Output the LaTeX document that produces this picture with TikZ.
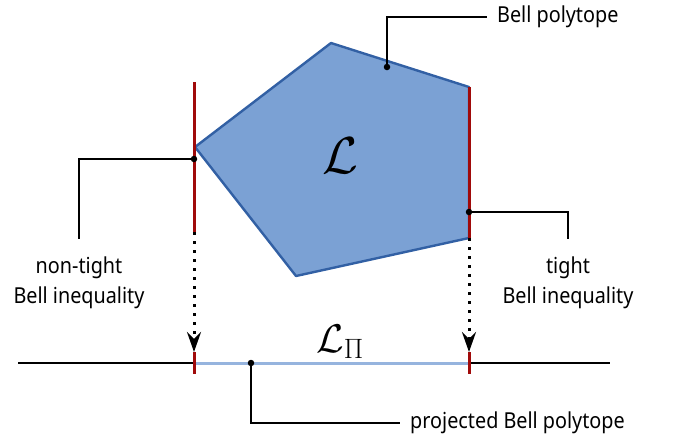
\RequirePackage{fix-cm}
\documentclass[tikz,border=0pt]{standalone}
\usepackage{fontspec}
\setmainfont{Noto Sans}[FakeStretch=0.9]
\usetikzlibrary{positioning,arrows.meta}
\definecolor{polyfill}{RGB}{123,161,212}
\definecolor{polyedge}{RGB}{50,96,164}
\definecolor{ineqred}{RGB}{160,10,10}
\definecolor{projblue}{RGB}{150,180,222}

\begin{document}
\begin{tikzpicture}[x=1pt, y=-1pt,
      poly/.style={fill=polyfill, draw=polyedge, line width=2.4pt, line join=round},
      ineq/.style={draw=ineqred, line width=3pt},
      lead/.style={draw=black, line width=1.6pt},
      proj/.style={line width=3pt, dash pattern=on 3pt off 6pt,
                   -{Stealth[length=20pt, width=14pt, inset=7pt]}},
      lbl/.style={font=\fontsize{22}{30}\selectfont, align=center, inner xsep=10pt},
      dot/.style={circle, fill=black, inner sep=0pt, minimum size=6.5pt}]
    \useasboundingbox (0,0) rectangle (689,440);
    % the polytope
    \coordinate (v1) at (195,147);
    \coordinate (v2) at (331,43);
    \coordinate (v3) at (469,87);
    \coordinate (v4) at (469,238);
    \coordinate (v5) at (296,276);
    \draw[poly] (v1) -- (v2) -- (v3) -- (v4) -- (v5) -- cycle;
    \node[font=\fontsize{52}{60}\selectfont] (L) at (340,156) {$\mathcal{L}$};
    % the two inequalities
    \coordinate (ntop) at (194,82);
    \coordinate (nbot) at (194,232);
    \coordinate (ttop) at (469,87);
    \coordinate (tbot) at (469,238);
    \draw[ineq] (ntop) -- (nbot);
    \draw[ineq] (ttop) -- (tbot);
    % the projection line
    \coordinate (axl) at (18,363);
    \coordinate (axr) at (610,363);
    \coordinate (pl) at (194,363);
    \coordinate (pr) at (469,363);
    \draw[line width=2.4pt] (axl) -- (axr);
    \draw[projblue, line width=3pt] (pl) -- (pr);
    \draw[ineq] ([yshift=11pt]pl) coordinate (pltop) -- ([yshift=-11pt]pl);
    \draw[ineq] ([yshift=11pt]pr) coordinate (prtop) -- ([yshift=-11pt]pr);
    \node[font=\fontsize{40}{46}\selectfont] (LP) at (340,342) {$\mathcal{L}_\Pi$};
    \draw[proj] (nbot) -- (pltop);
    \draw[proj] (tbot) -- (prtop);
    % labels
    \node[dot] (pdot) at (387,67) {};
    \node[dot] (ndot) at (194,159) {};
    \node[dot] (tdot) at (469,212) {};
    \node[dot] (qdot) at (251,363) {};
    \node[lbl, anchor=west] (bell) at (487,17) {Bell polytope};
    \node[lbl, anchor=north, inner ysep=18pt] (ntight) at (79,239) {non-tight\\Bell inequality};
    \node[lbl, anchor=north, inner ysep=18pt] (tight) at (568,239) {tight\\Bell inequality};
    \node[lbl, anchor=west] (proj) at (400,423) {projected Bell polytope};
    \draw[lead] (pdot.center) |- (bell.west);
    \draw[lead] (ndot.center) -| (ntight.north);
    \draw[lead] (tdot.center) -| (tight.north);
    \draw[lead] (qdot.center) |- (proj.west);
  \end{tikzpicture}
\end{document}
